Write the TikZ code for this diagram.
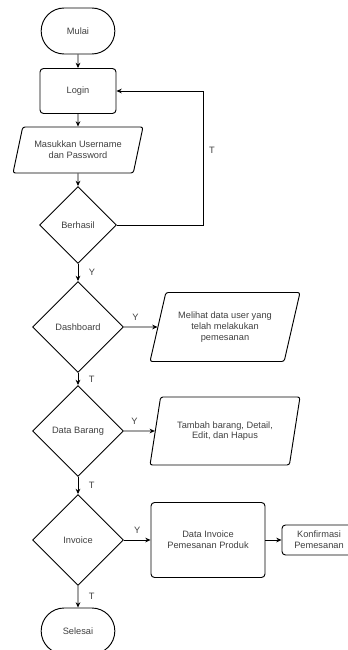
\documentclass[tikz,border=0pt]{standalone}
\usepackage{fontspec}
\setmainfont{Liberation Sans}
\usetikzlibrary{shapes.geometric,shapes.misc,arrows.meta}

\tikzset{
	base/.style={draw=black, line width=0.8pt, align=center, text=black!75, font=\fontsize{7.9}{9.2}\selectfont, inner sep=1pt},
	terminal/.style={base, rounded rectangle, minimum width=2.28cm, minimum height=1.38cm},
	process/.style={base, rectangle, rounded corners=3pt},
	inout/.style={base, trapezium, trapezium left angle=64, trapezium right angle=116, trapezium stretches body=true, rounded corners=2pt},
	decision/.style={base, diamond, aspect=1, inner sep=0pt},
	flow/.style={line width=0.6pt, -{Stealth[length=4.5pt,width=4pt]}},
	lbl/.style={text=black!75, font=\fontsize{7.9}{9.2}\selectfont, inner sep=1pt}
}

\begin{document}
\begin{tikzpicture}[x=0.03cm, y=-0.03cm]
			%%%%% START %%%%%
			\useasboundingbox (0, 0) rectangle (348, 650);
			\clip (0, 0) rectangle (348, 650);
			
			\node[terminal] (mulai) at (78, 31) {Mulai};
			\node[process, minimum width=2.28cm, minimum height=1.35cm] (login) at (78, 91) {Login};
			\node[inout, minimum width=3.9cm, minimum height=1.38cm] (input) at (78, 150) {Masukkan Username\\dan Password};
			\node[decision, minimum width=2.31cm, minimum height=2.31cm] (berhasil) at (78, 225) {Berhasil};
			
			\node[decision, minimum width=2.73cm, minimum height=2.73cm] (dashboard) at (78, 327) {Dashboard};
			\node[inout, minimum width=4.5cm, minimum height=2.07cm] (lihat) at (225, 327) {Melihat data user yang\\telah melakukan\\pemesanan};
			
			\node[decision, minimum width=2.73cm, minimum height=2.73cm] (barang) at (78, 431) {Data Barang};
			\node[inout, minimum width=4.5cm, minimum height=2.04cm] (kelola) at (225, 431) {Tambah barang, Detail,\\Edit, dan Hapus};
			
			\node[decision, minimum width=2.73cm, minimum height=2.73cm] (invoice) at (78, 540) {Invoice};
			\node[process, minimum width=3.42cm, minimum height=2.25cm] (datainv) at (208, 540) {Data Invoice\\Pemesanan Produk};
			\node[process, minimum width=2.22cm, minimum height=0.9cm] (konfirm) at (319, 540) {Konfirmasi\\Pemesanan};
			
			\node[terminal] (selesai) at (78, 631) {Selesai};
			
			% alur utama
			\draw[flow] (mulai) -- (login);
			\draw[flow] (login) -- (input);
			\draw[flow] (input) -- (berhasil);
			\draw[flow] (berhasil.east) -- ++(86, 0) |- node[lbl, pos=0.28, right=4pt] {T} (login.east);
			\draw[flow] (berhasil) -- node[lbl, right=8pt] {Y} (dashboard);
			
			\draw[flow] (dashboard) -- node[lbl, pos=0.34, above=4pt] {Y} (lihat);
			\draw[flow] (dashboard) -- node[lbl, right=8pt] {T} (barang);
			
			\draw[flow] (barang) -- node[lbl, pos=0.34, above=4pt] {Y} (kelola);
			\draw[flow] (barang) -- node[lbl, right=8pt] {T} (invoice);
			
			\draw[flow] (invoice) -- node[lbl, above=4pt] {Y} (datainv);
			\draw[flow] (datainv) -- (konfirm);
			\draw[flow] (invoice) -- node[lbl, right=8pt] {T} (selesai);
			%%%%% END %%%%%
\end{tikzpicture}
\end{document}
